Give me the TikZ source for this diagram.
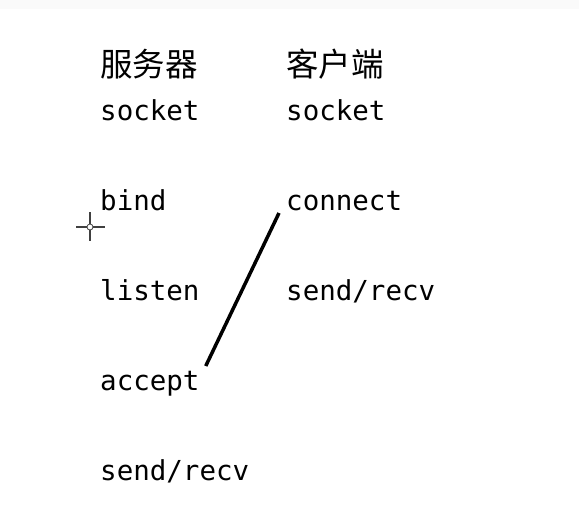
\documentclass[tikz,border=0pt]{standalone}
\usepackage{fontspec}
\setmonofont{DejaVu Sans Mono}
\newfontfamily\cjk{Noto Sans CJK SC}
\usepackage{tikz}
\usetikzlibrary{positioning,calc}

\begin{document}
\begin{tikzpicture}[x=1pt, y=-1pt,
    call/.style={anchor=base west, inner sep=0pt, font=\fontsize{27.5}{30}\selectfont\ttfamily},
    title/.style={anchor=base west, inner sep=0pt, font=\fontsize{32.5}{35}\selectfont\cjk},
    cursor/.style={line width=1.1pt, draw=black!75}
]
    \useasboundingbox (0,0) rectangle (579,525);
    \fill[black!2] (0,0) rectangle (579,9);

    % column titles
    \node[title] (srv) at (100,76) {服务器};
    \node[title] (cli) at (286,76) {客户端};

    % server side
    \node[call] (ssock) at (100,120) {socket};
    \node[call] (bind) at (100,210) {bind};
    \node[call] (listen) at (100,300) {listen};
    \node[call] (accept) at (100,390) {accept};
    \node[call] (ssend) at (100,480) {send/recv};

    % client side
    \node[call] (csock) at (286,120) {socket};
    \node[call] (connect) at (286,210) {connect};
    \node[call] (csend) at (286,300) {send/recv};

    % connection
    \draw[line width=3.5pt] ($(connect.base west)+(-7,3)$) -- ($(accept.base east)+(6,-24)$);

    % mouse cursor
    \draw[cursor] (76,227) -- (87,227) (93,227) -- (105,227)
                  (90,212) -- (90,224) (90,230) -- (90,241);
    \draw[cursor, line width=0.8pt] (90,227) circle (3);
\end{tikzpicture}
\end{document}
